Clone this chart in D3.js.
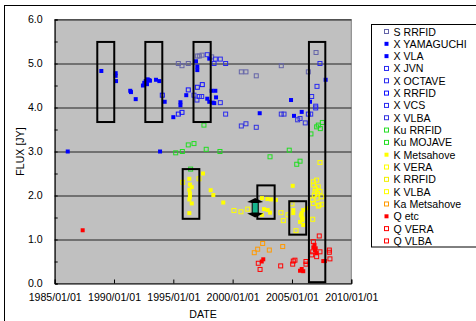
<!DOCTYPE html>
<html>
<head>
<meta charset="utf-8" />
<title>Flux history</title>
<style>
body { margin: 0; background: #fff; }
svg text { font-family: "Liberation Sans", Arial, sans-serif; fill: #000; }
</style>
</head>
<body>
<div id="graph"></div>
<script src="https://d3js.org/d3.v7.min.js"></script>
<script>
// [decimal year, flux Jy]
var sRrfid = [[1995.42,5.00],[1995.73,4.95],[1996.26,5.00],[1997.02,5.17],[1997.19,5.17],[1997.42,5.19],[1998.23,5.15],[2000.73,4.81],[2001.12,4.81],[2001.99,4.72],[2004.10,4.95],[2006.38,4.81],[2007.03,5.25]];
var xYamaguchi = [[1995.60,4.12],[1995.60,4.05],[1996.09,4.28],[1996.91,5.05],[1997.02,4.93],[1997.02,4.85],[1998.03,5.11],[1998.23,4.38],[1998.54,4.38],[1997.86,4.20],[1998.03,4.13],[1998.60,4.23],[1998.45,4.10],[1998.32,4.11],[2002.28,3.87],[2004.92,4.17],[2005.17,3.81],[2005.82,3.90],[2006.52,4.13],[2007.84,4.63]];
var xVla = [[1986.10,3.00],[1988.93,4.83],[1990.14,4.78],[1990.14,4.72],[1990.17,4.60],[1991.37,4.38],[1991.43,4.35],[1991.83,4.19],[1992.44,4.50],[1992.55,4.56],[1992.67,4.60],[1992.78,4.53],[1992.84,4.64],[1992.95,4.62],[1993.03,4.61],[1993.54,4.63],[1993.82,4.60],[1993.88,3.00],[1994.27,4.13],[1995.00,3.78]];
var xJvn = [[2006.38,3.85],[2006.58,3.85],[2006.66,4.25]];
var xOctave = [[2007.00,4.03],[2007.00,3.99],[2007.11,4.48],[2007.36,5.00]];
var xRrfid = [[1994.07,4.28],[1995.42,3.85],[1995.73,3.89],[1996.26,4.40],[1997.02,4.46],[1997.44,4.52]];
var xVcs = [[1997.19,4.25],[1997.39,4.25],[1996.99,4.17],[1996.74,4.28],[1997.86,5.20],[1998.54,5.10],[1998.96,5.10],[1998.43,5.00],[1999.41,5.00],[1998.96,4.11],[1999.41,3.85]];
var xVlba = [[2000.73,3.58],[2001.12,3.63],[2001.99,3.55],[2004.10,3.85],[2004.33,3.85],[2005.48,3.72],[2005.68,3.75],[2006.12,3.65]];
var kuRrfid = [[1995.20,2.97],[1995.76,3.00],[1996.26,3.15],[1996.74,3.18],[1996.46,2.60],[1997.58,3.60],[1997.77,3.05],[1998.93,3.00]];
var kuMojave = [[2003.15,2.88],[2004.77,3.03],[2005.40,2.71],[2005.68,2.78],[2006.60,3.40],[2007.08,3.56],[2007.22,3.60],[2007.39,3.52],[2007.56,3.66]];
var kMetsahove = [[1996.35,2.38],[1997.50,2.50],[1996.40,2.25],[1996.55,2.19],[1996.35,2.13],[1996.40,2.05],[1996.40,1.97],[1996.35,1.91],[1996.55,1.82],[1996.35,1.60],[1998.15,2.12],[1998.37,2.01],[1999.21,1.84],[2002.47,1.94],[2002.92,1.92],[2003.23,1.91],[2003.65,1.90],[2002.64,1.69],[2002.95,1.67],[2003.15,1.61],[2002.47,1.56],[2005.06,2.22],[2005.11,1.67],[2005.11,1.60],[2005.95,1.67],[2005.82,1.52],[2005.87,1.44],[2005.95,1.33],[2005.68,1.40],[2006.24,1.71],[2005.82,1.60],[2005.75,1.55],[2005.90,1.48]];
var kVera = [[2007.36,2.75],[2006.80,2.31],[2007.08,2.35],[2006.80,2.24],[2007.22,2.20],[2006.94,2.09],[2007.36,2.09],[2006.80,1.82],[2007.22,1.76],[2007.53,1.80],[2006.75,1.46],[2007.51,1.97],[2007.11,1.94],[2006.88,2.01],[2006.71,1.90],[2007.28,1.78],[2007.00,2.15],[2007.15,2.05]];
var kRrfid = [[1995.79,2.30],[1997.16,2.38]];
var kVlba = [[2000.11,1.66],[2000.70,1.63],[2001.27,1.69],[2004.07,1.61],[2004.27,1.43],[2004.66,1.56],[2005.00,1.81],[2005.34,1.20]];
var kaMetsahove = [[2002.53,0.91],[2002.11,0.78],[2001.82,0.70],[2003.09,0.76],[2004.22,0.84]];
var qEtc = [[1987.36,1.21],[2002.58,0.55],[2002.45,0.50],[2005.82,0.33],[2005.95,0.28],[2005.68,0.29],[2006.80,0.82],[2006.94,0.76],[2007.08,0.69],[2007.64,0.51],[2007.78,0.51],[2006.90,0.88],[2007.00,0.80]];
var qVera = [[2007.30,1.08],[2006.80,0.95],[2007.36,0.72],[2006.66,0.65],[2007.08,0.61],[2008.15,0.76],[2008.15,0.71],[2008.20,0.56],[2006.75,0.72]];
var qVlba = [[2002.16,0.46],[2002.31,0.32],[2004.05,0.40],[2005.11,0.51],[2005.06,0.44],[2005.25,0.53],[2006.18,0.50],[2006.18,0.44]];

// annotation boxes: [year from, year to, flux low, flux high]
var boxes = [[1988.59,1990.02,3.67,5.49],[1992.64,1994.07,3.67,5.49],[1996.70,1998.15,3.67,5.49],[2006.43,2007.81,0.03,5.49],
             [1995.79,1997.19,1.47,2.60],[2002.08,2003.54,1.47,2.23],[2004.77,2006.20,1.11,1.87]];
var arrowMark = [2001.9, 1.52, 1.92];

var yTicks = [0,1,2,3,4,5,6];
var xTickYears = [1985,1990,1995,2000,2005,2010];

var series = [
    {name:"S RRFID", data:sRrfid, color:"#6464a8", filled:false},
    {name:"X YAMAGUCHI", data:xYamaguchi, color:"#0000ff", filled:true},
    {name:"X VLA", data:xVla, color:"#0000ff", filled:true},
    {name:"X JVN", data:xJvn, color:"#2a2af0", filled:false},
    {name:"X OCTAVE", data:xOctave, color:"#2a2af0", filled:false},
    {name:"X RRFID", data:xRrfid, color:"#1010ff", filled:false},
    {name:"X VCS", data:xVcs, color:"#2a2af0", filled:false},
    {name:"X VLBA", data:xVlba, color:"#3030e0", filled:false},
    {name:"Ku RRFID", data:kuRrfid, color:"#22dd22", filled:false},
    {name:"Ku MOJAVE", data:kuMojave, color:"#22dd22", filled:false},
    {name:"K Metsahove", data:kMetsahove, color:"#ffff00", filled:true},
    {name:"K VERA", data:kVera, color:"#ffff00", filled:false},
    {name:"K RRFID", data:kRrfid, color:"#f0f000", filled:false},
    {name:"K VLBA", data:kVlba, color:"#ffff00", filled:false},
    {name:"Ka Metsahove", data:kaMetsahove, color:"#ff9900", filled:false},
    {name:"Q etc", data:qEtc, color:"#ff0000", filled:true},
    {name:"Q VERA", data:qVera, color:"#ff0000", filled:false},
    {name:"Q VLBA", data:qVlba, color:"#ff0000", filled:false}
];

function toDate(y) {
    var yr = Math.floor(y);
    var start = Date.UTC(yr,0,1), end = Date.UTC(yr+1,0,1);
    return new Date(start + (y-yr)*(end-start));
}

var W = 476, H = 321;
var margin = {top:19.5, left:54.7, right:476-351.3, bottom:321-283.5};
var svg = d3.select("#graph").append("svg").attr("width",W).attr("height",H);

svg.append("rect").attr("x",4.5).attr("y",5.5).attr("width",520).attr("height",340)
    .attr("fill","#fff").attr("stroke","#000");

var cw = W - margin.left - margin.right, ch = H - margin.top - margin.bottom;
var xScale = d3.scaleUtc().domain([toDate(1985), toDate(2010)]).range([0,cw]);
var yScale = d3.scaleLinear().domain([0,6]).range([ch,0]);

var g = svg.append("g").attr("transform","translate("+[margin.left,margin.top]+")");
g.append("rect").attr("width",cw).attr("height",ch).attr("fill","#c0c0c0").attr("stroke","#808080");

// grid
g.selectAll(".grid").data(yTicks.slice(1)).enter().append("line")
    .attr("x1",0).attr("x2",cw)
    .attr("y1",function(d){return Math.round(yScale(d))+0.5})
    .attr("y2",function(d){return Math.round(yScale(d))+0.5})
    .attr("stroke","#222");

var yAxis = d3.axisLeft(yScale).tickValues(d3.range(0,6.01,0.5)).tickSize(-3).tickPadding(12)
    .tickFormat(function(d){ return d%1===0 ? d3.format(".1f")(d) : "" });
var ya = g.append("g").call(yAxis);
ya.select(".domain").attr("stroke","#000");
ya.selectAll("text").style("font-size","10.6px");

var xAxis = d3.axisBottom(xScale).tickValues(xTickYears.map(toDate)).tickSize(-4).tickPadding(10)
    .tickFormat(d3.utcFormat("%Y/%m/%d"));
var xa = g.append("g").attr("transform","translate(0,"+ch+")").call(xAxis);
xa.select(".domain").attr("stroke","#000");
xa.selectAll("text").style("font-size","10.6px");

svg.append("text").attr("x",margin.left+cw/2).attr("y",318).attr("text-anchor","middle")
    .style("font-size","10.6px").text("DATE");
svg.append("text").attr("transform","translate(24,"+(margin.top+ch/2)+") rotate(-90)")
    .attr("text-anchor","middle").style("font-size","10.6px").text("FLUX [JY]");

// points
series.forEach(function(s){
    g.append("g").selectAll("rect").data(s.data).enter().append("rect")
        .attr("x",function(d){return xScale(toDate(d[0]))-2})
        .attr("y",function(d){return yScale(d[1])-2})
        .attr("width",4).attr("height",4)
        .attr("fill", s.filled ? s.color : "none")
        .attr("stroke", s.filled ? "none" : s.color)
        .attr("stroke-width",1);
});

// annotation boxes
g.selectAll(".box").data(boxes).enter().append("rect")
    .attr("x",function(d){return xScale(toDate(d[0]))})
    .attr("y",function(d){return yScale(d[3])})
    .attr("width",function(d){return xScale(toDate(d[1]))-xScale(toDate(d[0]))})
    .attr("height",function(d){return yScale(d[2])-yScale(d[3])})
    .attr("fill","none").attr("stroke","#000").attr("stroke-width",2);

// double arrow
var ax = xScale(toDate(arrowMark[0])), ayB = yScale(arrowMark[1]), ayT = yScale(arrowMark[2]);
g.append("rect").attr("x",ax-3).attr("y",ayT+1).attr("width",6).attr("height",ayB-ayT-2)
    .attr("rx",2).attr("fill","#16b48c").attr("stroke","#000").attr("stroke-width",1);
g.append("path").attr("d","M"+(ax-8)+","+(ayT+3)+"L"+ax+","+(ayT-1)+"L"+(ax+8)+","+(ayT+3)+"L"+(ax+3)+","+(ayT+4)+"L"+(ax-3)+","+(ayT+4)+"Z")
    .attr("fill","#000");
g.append("path").attr("d","M"+(ax-8)+","+(ayB-3)+"L"+ax+","+(ayB+1)+"L"+(ax+8)+","+(ayB-3)+"L"+(ax+3)+","+(ayB-4)+"L"+(ax-3)+","+(ayB-4)+"Z")
    .attr("fill","#000");

// legend
var lg = svg.append("g").attr("transform","translate(371.5,24.5)");
lg.append("rect").attr("width",140).attr("height",222.5).attr("fill","#fff").attr("stroke","#000");
var items = lg.selectAll(".item").data(series).enter().append("g")
    .attr("transform",function(d,i){return "translate(0,"+(7+i*12.32)+")"});
items.append("rect").attr("x",13).attr("y",-2).attr("width",4).attr("height",4)
    .attr("fill",function(d){return d.filled ? d.color : "#fff"})
    .attr("stroke",function(d){return d.filled ? "none" : d.color});
items.append("text").attr("x",22).attr("y",4).style("font-size","10.6px").text(function(d){return d.name});
</script>
</body>
</html>
